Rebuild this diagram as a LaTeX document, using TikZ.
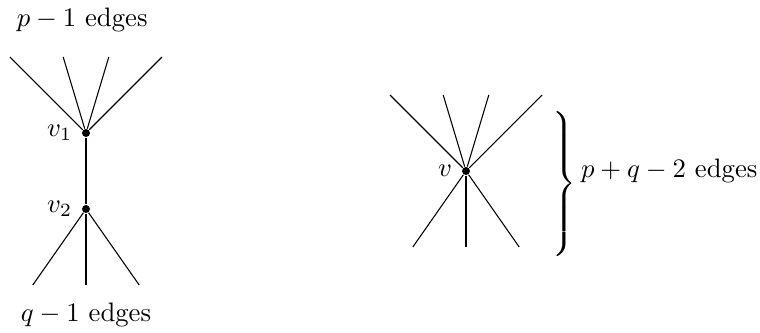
\documentclass[tikz,border=0pt]{standalone}
\usepackage{amsmath}
\usetikzlibrary{positioning}

\begin{document}
\begin{tikzpicture}[x=0.5cm, y=0.5cm, vtx/.style={circle, fill, inner sep=0pt, minimum size=3pt}]
  \useasboundingbox (-2.263,-3.263) rectangle (17.737,5.5);
  % left graph: the edge v1 v2
  \node[vtx, label={left:$v_1$}] (v1) at (0,2) {};
  \node[vtx, label={left:$v_2$}] (v2) at (0,0) {};
  \coordinate (a1) at (-2,4);
  \coordinate (a2) at (-0.6,4);
  \coordinate (a3) at (0.6,4);
  \coordinate (a4) at (2,4);
  \coordinate (b1) at (-1.4,-2);
  \coordinate (b2) at (0,-2);
  \coordinate (b3) at (1.4,-2);
  \draw (v1) -- (v2);
  \draw (v1) -- (a1);
  \draw (v1) -- (a2);
  \draw (v1) -- (a3);
  \draw (v1) -- (a4);
  \draw (v2) -- (b1);
  \draw (v2) -- (b2);
  \draw (v2) -- (b3);
  \node[anchor=base] (ptop) at (-0.1,4.79) {$p-1$ edges};
  \node[anchor=base] (qbot) at (0,-2.96) {$q-1$ edges};
  % right graph: after contraction
  \node[vtx, label={left:$v$}] (v) at (10,1) {};
  \coordinate (c1) at (8,3);
  \coordinate (c2) at (9.4,3);
  \coordinate (c3) at (10.6,3);
  \coordinate (c4) at (12,3);
  \coordinate (d1) at (8.6,-1);
  \coordinate (d2) at (10,-1);
  \coordinate (d3) at (11.4,-1);
  \draw (v) -- (c1);
  \draw (v) -- (c2);
  \draw (v) -- (c3);
  \draw (v) -- (c4);
  \draw (v) -- (d1);
  \draw (v) -- (d2);
  \draw (v) -- (d3);
  \node[inner sep=0pt] (br) at (12.55,0.66) {$\left.\vrule height 29.5pt depth 24.5pt width 0pt\right\}$};
  \node[anchor=west] (tot) at (12.78,1) {$p+q-2$ edges};
\end{tikzpicture}
\end{document}
